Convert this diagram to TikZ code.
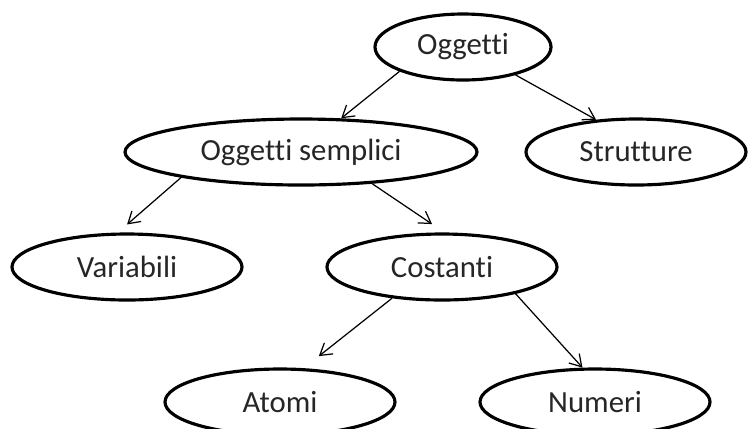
\documentclass[tikz,border=0pt]{standalone}
\usepackage{fontspec}
\setmainfont[Ligatures={NoCommon}]{Carlito}
\usepackage{tikz}
\usetikzlibrary{shapes.geometric,positioning,arrows.meta}

\begin{document}
\begin{tikzpicture}[on grid,auto,
	oval/.style={ellipse,draw,line width=1.8pt,inner sep=0pt,minimum height=1.32cm,
		font=\fontsize{17.5}{20}\selectfont,text=black!85},
	>={Straight Barb[length=6.5pt,width=8pt]},every edge/.style={draw,line width=0.7pt}]
	\useasboundingbox (0,0) rectangle (14.96,-8.56);
	\node[oval,minimum width=3.52cm] (ogg) at (9.26,-0.94) {Oggetti};
	\node[oval,minimum width=7.04cm] (sem) [below left=2.1cm and 3.24cm of ogg] {Oggetti semplici};
	\node[oval,minimum width=4.4cm] (str) [below right=2.1cm and 3.46cm of ogg] {Strutture};
	\node[oval,minimum width=4.6cm] (var) [below left=2.3cm and 3.48cm of sem] {Variabili};
	\node[oval,minimum width=4.6cm] (cos) [below right=2.3cm and 2.82cm of sem] {Costanti};
	\node[oval,minimum width=4.6cm] (ato) [below left=2.7cm and 3.24cm of cos] {Atomi};
	\node[oval,minimum width=4.6cm] (num) [below right=2.7cm and 3.06cm of cos] {Numeri};
	\path[->]
	(ogg.201) edge (sem.40)
	(ogg.332) edge (str.141)
	(sem.192) edge [shorten >=7pt] (var.105)
	(sem.336) edge [shorten >=8.5pt] (cos.86)
	(cos.212) edge [shorten >=11pt] (ato.55)
	(cos.340) edge (num.110);
\end{tikzpicture}
\end{document}
